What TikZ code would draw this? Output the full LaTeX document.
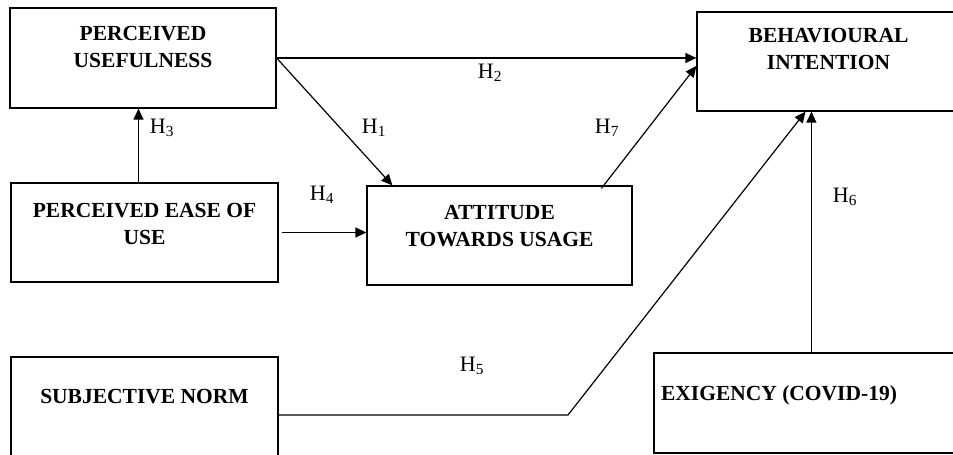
\documentclass[tikz,border=0pt]{standalone}
\usepackage{fontspec}
\setmainfont{Liberation Serif}
\usepackage{tikz}
\usetikzlibrary{positioning,arrows.meta,calc}

\tikzset{
  box/.style={draw=black, line width=1.2pt, rectangle, inner sep=0pt},
  title/.style={font=\fontsize{21.5}{27}\selectfont\bfseries, align=center, inner sep=0pt},
  hyp/.style={font=\fontsize{22}{25}\selectfont, inner sep=0pt},
  arr/.style={line width=1.2pt, -{Triangle[length=11pt,width=10pt]}}
}

\begin{document}
\begin{tikzpicture}[x=1pt,y=1pt]
\useasboundingbox (0,0) rectangle (953,455);

% construct boxes
\node[box, minimum width=266pt, minimum height=100pt] (pu) at (143,397) {};
\node[box, minimum width=263pt, minimum height=99pt] (bi) at (828.5,393.5) {};
\node[box, minimum width=267pt, minimum height=99pt] (peou) at (144.5,222.5) {};
\node[box, minimum width=265pt, minimum height=99pt] (atu) at (499.5,219.5) {};
\node[box, minimum width=267pt, minimum height=116pt] (sn) at (144.5,40) {};
\node[box, minimum width=306pt, minimum height=100pt] (ex) at (807,52) {};

\node[title] (putxt) at ([yshift=11.5pt]pu.center) {PERCEIVED\\USEFULNESS};
\node[title] (bitxt) at ([yshift=12.5pt]bi.center) {BEHAVIOURAL\\INTENTION};
\node[title] (peoutxt) at ([yshift=8.5pt]peou.center) {PERCEIVED EASE OF\\USE};
\node[title] (atutxt) at ([yshift=9pt]atu.center) {ATTITUDE\\TOWARDS USAGE};
\node[title] (sntxt) at ([yshift=18pt]sn.center) {SUBJECTIVE NORM};
\node[title] (extxt) at ([xshift=-28pt,yshift=8pt]ex.center) {EXIGENCY (COVID-19)};

% paths
\coordinate (bend) at (568,40);
\draw[arr] ([xshift=-6pt]peou.north) -- ([xshift=-6pt]peou.north |- pu.south);
\draw[arr] (pu.east) -- ([xshift=26pt]atu.north west);
\draw[arr] (pu.east) -- (pu.east -| bi.west);
\draw[arr, shorten <=3pt] (peou.east) -- (peou.east -| atu.west);
\draw[arr] ([xshift=235pt,yshift=-3pt]atu.north west) -- ([yshift=-4.5pt]bi.west);
\draw[arr] (sn.east) -- (bend) -- ([xshift=-23pt]bi.south);
\draw[arr] ([xshift=158pt]ex.north west) -- ([xshift=158pt]ex.north west |- bi.south);

\node[hyp] (h1) at (374,327) {H\textsubscript{1}};
\node[hyp] (h2) at (490,382) {H\textsubscript{2}};
\node[hyp] (h3) at (162,327) {H\textsubscript{3}};
\node[hyp] (h4) at (322,260) {H\textsubscript{4}};
\node[hyp] (h5) at (472,89) {H\textsubscript{5}};
\node[hyp] (h6) at (845,258) {H\textsubscript{6}};
\node[hyp] (h7) at (607,327) {H\textsubscript{7}};

\end{tikzpicture}
\end{document}
